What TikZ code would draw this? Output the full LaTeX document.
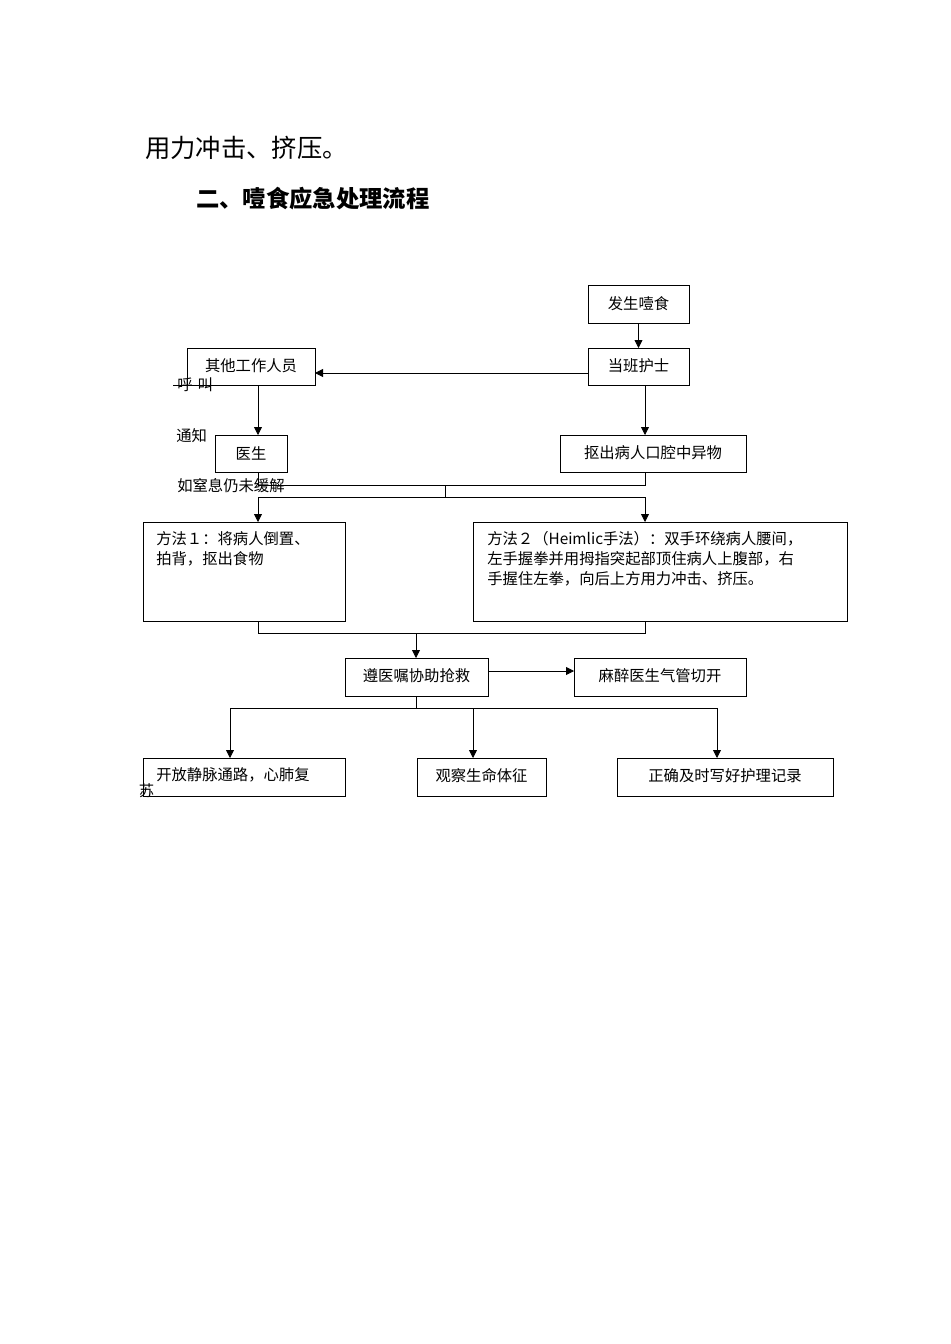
\documentclass[tikz,border=0pt]{standalone}
\usepackage{fontspec}
\setmainfont{Noto Sans CJK SC}
\usetikzlibrary{arrows.meta}
\begin{document}
\begin{tikzpicture}[x=0.75pt,y=-0.75pt,
  bx/.style={draw,line width=0.6pt},
  ln/.style={line width=0.6pt},
  ar/.style={ln,-{Triangle[length=6pt,width=6pt]}},
  tx/.style={font=\fontsize{11.5pt}{15pt}\selectfont,inner sep=0pt},
  lb/.style={tx,anchor=west}]
\useasboundingbox (0,0) rectangle (950,1344);
\node[anchor=west,inner sep=0pt,font=\fontsize{19pt}{22pt}\selectfont] (t1) at (145,148) {用力冲击、挤压。};
\node[anchor=west,inner sep=0pt,font=\fontsize{17.5pt}{22pt}\selectfont\bfseries] (t2) at (196,199) {二、噎食应急处理流程};
% boxes
\draw[bx] (588,285) rectangle (689,323); \node[tx] (a) at (638.5,304) {发生噎食};
\draw[bx] (588,348) rectangle (689,385); \node[tx] (b) at (638.5,366) {当班护士};
\draw[bx] (187,348) rectangle (315,385); \node[tx] (c) at (251,366) {其他工作人员};
\draw[bx] (215,435) rectangle (287,472); \node[tx] (d) at (251,453) {医生};
\draw[bx] (560,435) rectangle (746,472); \node[tx] (e) at (653,453) {抠出病人口腔中异物};
\draw[bx] (143,522) rectangle (345,621);
\node[tx,anchor=north west,align=left] (m1) at (156,531) {方法１：将病人倒置、\\拍背，抠出食物};
\draw[bx] (473,522) rectangle (847,621);
\node[tx,anchor=north west,align=left] (m2) at (487,531) {方法２（Heimlic手法）：双手环绕病人腰间，\\左手握拳并用拇指突起部顶住病人上腹部，右\\手握住左拳，向后上方用力冲击、挤压。};
\draw[bx] (345,658) rectangle (488,696); \node[tx] (f) at (416.5,676) {遵医嘱协助抢救};
\draw[bx] (574,658) rectangle (746,696); \node[tx] (g) at (660,676) {麻醉医生气管切开};
\draw[bx] (143,758) rectangle (345,796);
\node[tx,anchor=north west,align=left] (h) at (156,767) {开放静脉通路，心肺复\\[-3pt]\hspace*{-13pt}苏};
\draw[bx] (417,758) rectangle (546,796); \node[tx] (i) at (481.5,776) {观察生命体征};
\draw[bx] (617,758) rectangle (833,796); \node[tx] (j) at (725,776) {正确及时写好护理记录};
% labels
\node[lb] (l1) at (177,385) {呼\,\,叫};
\node[lb] (l2) at (176,436) {通知};
\node[lb] (l3) at (177,486) {如窒息仍未缓解};
% connectors
\draw[ar] (638.5,323) -- (638.5,348);
\draw[ar] (588,373) -- (315,373);
\draw[ar] (258,385) -- (258,435);
\draw[ar] (645,385) -- (645,435);
\draw[ln] (173,385) -- (258,385);
\draw[ln] (258,472) -- (258,485) -- (645,485) -- (645,472);
\draw[ln] (445,485) -- (445,497);
\draw[ar] (445,497) -- (258,497) -- (258,522);
\draw[ar] (445,497) -- (645,497) -- (645,522);
\draw[ln] (258,621) -- (258,633) -- (645,633) -- (645,621);
\draw[ar] (416,633) -- (416,658);
\draw[ar] (488,671) -- (574,671);
\draw[ln] (416,696) -- (416,708);
\draw[ar] (416,708) -- (230,708) -- (230,758);
\draw[ar] (416,708) -- (717,708) -- (717,758);
\draw[ar] (473,708) -- (473,758);
\end{tikzpicture}
\end{document}
